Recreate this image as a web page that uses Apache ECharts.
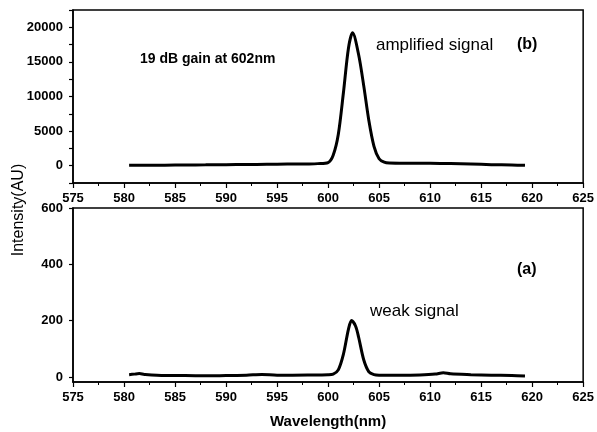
<!DOCTYPE html>
<html>
<head>
<meta charset="utf-8">
<script src="https://cdn.jsdelivr.net/npm/echarts@6/dist/echarts.min.js"></script>
<style>
  html, body { margin: 0; padding: 0; background: #fff; }
  #chart { width: 597px; height: 432px; }
</style>
</head>
<body>
<div id="chart"></div>
<script>
// amplified signal (b), top panel
var ampWl  = [580.5, 582, 584, 586, 588, 590, 592, 594, 596, 598, 599, 600, 600.5, 601, 601.5, 602, 602.4, 603, 603.5, 604, 604.5, 605, 605.5, 606, 608, 610, 612, 614, 616, 618, 619.3];
var ampVal = [50, 60, 80, 100, 120, 150, 170, 200, 230, 260, 300, 450, 1500, 4500, 10500, 17000, 19200, 16000, 11500, 6500, 2800, 1000, 500, 380, 350, 340, 300, 250, 150, 100, 50];

// weak signal (a), bottom panel
var weakWl  = [580.5, 581, 581.5, 582, 584, 586, 588, 590, 592, 593.5, 595, 598, 600, 600.5, 601, 601.5, 602, 602.3, 602.7, 603, 603.5, 604, 604.5, 605, 607, 609, 610.5, 611.3, 612, 614, 616, 618, 619.3];
var weakVal = [8, 10, 12, 9, 5, 5, 4, 5, 6, 9, 6, 7, 8, 10, 25, 80, 170, 200, 180, 140, 60, 18, 8, 6, 6, 7, 10, 15, 11, 8, 6, 5, 3];

var topLabels = [0, 5000, 10000, 15000, 20000];
var topTicks = [-2500, 0, 2500, 5000, 7500, 10000, 12500, 15000, 17500, 20000, 22500];
var botLabels = [0, 200, 400, 600];

function pairs(xs, ys) {
	var out = [];
	for (var i = 0; i < xs.length; i++) out.push([xs[i], ys[i]]);
	return out;
}

var font = 'Liberation Sans, Arial, sans-serif';
var lineAxis = { onZero: false, lineStyle: { color: '#000', width: 1.5 } };
var tickLbl = { color: '#000', fontFamily: font, fontWeight: 'bold', fontSize: 13,
	formatter: function (v) { return String(v); } };

function xAxisCfg(idx) {
	return {
		type: 'value', gridIndex: idx, min: 575, max: 625, interval: 5,
		axisLine: lineAxis,
		axisTick: { show: true, length: 5, lineStyle: { color: '#000', width: 1.2 } },
		minorTick: { show: true, splitNumber: 2, length: 3, lineStyle: { color: '#000', width: 1 } },
		axisLabel: Object.assign({ margin: 9 }, tickLbl),
		splitLine: { show: false }
	};
}

// annotation text helper
function label(txt, x, y, size, bold) {
	return {
		type: 'text', x: x, y: y,
		style: { text: txt, fill: '#000', textVerticalAlign: 'middle',
			font: (bold ? 'bold ' : '') + size + 'px ' + font }
	};
}

var chart = echarts.init(document.getElementById('chart'));
var option = {
	animation: false,
	backgroundColor: '#fff',
	grid: [
		{ left: 73, top: 10, width: 511, height: 173, show: true, borderColor: '#000', borderWidth: 1.5 },
		{ left: 73, top: 208, width: 511, height: 174, show: true, borderColor: '#000', borderWidth: 1.5 }
	],
	xAxis: [
		xAxisCfg(0),
		Object.assign(xAxisCfg(1), {
			name: 'Wavelength(nm)', nameLocation: 'middle', nameGap: 32,
			nameTextStyle: { color: '#000', fontFamily: font, fontSize: 15, fontWeight: 'bold' }
		})
	],
	yAxis: [
		{
			type: 'value', gridIndex: 0, min: -2500, max: 22500,
			axisLine: lineAxis,
			axisTick: { show: true, length: 4, customValues: topTicks, lineStyle: { color: '#000', width: 1.2 } },
			axisLabel: Object.assign({ margin: 10, customValues: topLabels }, tickLbl),
			splitLine: { show: false }
		},
		{
			type: 'value', gridIndex: 1, min: -18, max: 600,
			axisLine: lineAxis,
			axisTick: { show: true, length: 4, customValues: botLabels, lineStyle: { color: '#000', width: 1.2 } },
			axisLabel: Object.assign({ margin: 10, customValues: botLabels }, tickLbl),
			splitLine: { show: false }
		}
	],
	series: [
		{
			type: 'line', xAxisIndex: 0, yAxisIndex: 0, smooth: 0.3, showSymbol: false,
			lineStyle: { color: '#000', width: 3 },
			data: pairs(ampWl, ampVal)
		},
		{
			type: 'line', xAxisIndex: 1, yAxisIndex: 1, smooth: 0.3, showSymbol: false,
			lineStyle: { color: '#000', width: 3 },
			data: pairs(weakWl, weakVal)
		}
	],
	graphic: [
		label('19 dB gain at 602nm', 140, 59, 14, true),
		label('amplified signal', 376, 45, 17, false),
		label('(b)', 517, 45, 16, true),
		label('(a)', 517, 270, 16, true),
		label('weak signal', 370, 311, 17, false),
		{
			type: 'text', x: 19, y: 210, rotation: Math.PI / 2,
			style: { text: 'Intensity(AU)', fill: '#000', textAlign: 'center', textVerticalAlign: 'middle',
				font: '16px ' + font }
		}
	]
};
chart.setOption(option);
</script>
</body>
</html>
